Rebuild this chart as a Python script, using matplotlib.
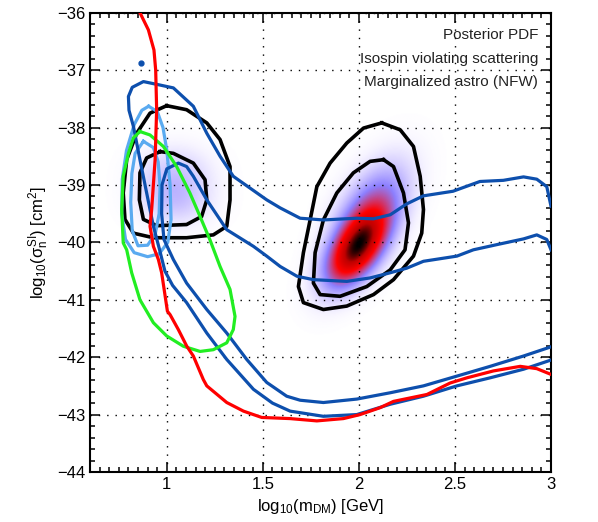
import numpy as np
import matplotlib.pyplot as plt
from matplotlib.colors import LinearSegmentedColormap
from matplotlib.ticker import MultipleLocator

plt.rcParams['font.family'] = 'Liberation Sans'
plt.rcParams['mathtext.fontset'] = 'custom'
plt.rcParams['mathtext.rm'] = 'Liberation Sans'
plt.rcParams['mathtext.it'] = 'Liberation Sans'
plt.rcParams['mathtext.sf'] = 'Liberation Sans'
plt.rcParams['mathtext.bf'] = 'Liberation Sans:bold'

# posterior blobs: centre, widths, correlation, weight
blob_mx = [1.99, 2.07, 1.04, 1.04]
blob_my = [-40.12, -39.4, -38.8, -39.3]
blob_sx = [0.11, 0.13, 0.13, 0.13]
blob_sy = [0.45, 0.55, 0.33, 0.3]
blob_rho = [0.55, 0.5, 0.0, 0.0]
blob_w = [1.0, 0.4, 0.15, 0.15]

# posterior contours (black)
post_r1_x = [2.119, 2.215, 2.284, 2.319, 2.336, 2.327, 2.284, 2.18, 2.076, 1.937, 1.815, 1.711, 1.685, 1.711, 1.746, 1.781, 1.85, 1.937, 2.024, 2.119]
post_r1_y = [-37.92, -38.04, -38.33, -38.85, -39.43, -39.84, -40.24, -40.65, -40.91, -41.11, -41.17, -41.05, -40.77, -40.18, -39.61, -39.03, -38.62, -38.27, -38.01, -37.92]
post_r2_x = [2.128, 2.18, 2.232, 2.258, 2.24, 2.163, 2.041, 1.902, 1.798, 1.763, 1.772, 1.815, 1.885, 1.971, 2.058, 2.128]
post_r2_y = [-38.56, -38.68, -39.14, -39.66, -40.13, -40.48, -40.77, -40.94, -40.91, -40.71, -40.18, -39.61, -39.14, -38.79, -38.59, -38.56]
post_l1_x = [0.999, 1.103, 1.208, 1.277, 1.329, 1.329, 1.312, 1.242, 1.103, 0.93, 0.826, 0.782, 0.773, 0.791, 0.843, 0.9125, 0.999]
post_l1_y = [-37.62, -37.69, -37.92, -38.21, -38.68, -39.26, -39.72, -39.87, -39.92, -39.92, -39.84, -39.6, -39.14, -38.56, -38.1, -37.75, -37.62]
post_l2_x = [0.965, 1.034, 1.138, 1.199, 1.208, 1.181, 1.103, 0.947, 0.878, 0.857, 0.86, 0.895, 0.965]
post_l2_y = [-38.42, -38.45, -38.62, -38.91, -39.26, -39.55, -39.69, -39.71, -39.6, -39.26, -38.79, -38.53, -38.42]

# dark blue contours
db_outer_x = [3.0, 2.978, 2.926, 2.857, 2.752, 2.63, 2.49, 2.336, 2.249, 2.163, 2.076, 1.989, 1.815, 1.694, 1.59, 1.52, 1.346, 1.277, 1.208, 1.138, 1.034, 0.95, 0.878, 0.82, 0.80, 0.803, 0.826, 0.86, 0.895, 0.93, 0.96, 0.99, 1.03, 1.103, 1.208, 1.312, 1.451, 1.55, 1.642, 1.815, 1.989, 2.163, 2.336, 2.51, 2.683, 2.857, 3.0]
db_outer_y = [-39.37, -39.03, -38.9, -38.86, -38.92, -38.94, -39.11, -39.19, -39.33, -39.52, -39.59, -39.58, -39.61, -39.58, -39.4, -39.26, -38.85, -38.5, -38.1, -37.63, -37.31, -37.25, -37.2, -37.3, -37.46, -37.7, -37.98, -38.56, -39.14, -39.72, -40.1, -40.5, -40.75, -41.05, -41.58, -42.04, -42.56, -42.8, -42.94, -43.03, -43.0, -42.82, -42.68, -42.5, -42.36, -42.21, -42.05]
db_inner_x = [3.0, 2.978, 2.926, 2.857, 2.718, 2.596, 2.51, 2.336, 2.249, 2.163, 2.058, 1.937, 1.763, 1.677, 1.59, 1.52, 1.451, 1.312, 1.208, 1.138, 1.103, 1.06, 1.0, 0.975, 0.973, 0.985, 1.034, 1.103, 1.208, 1.312, 1.416, 1.52, 1.624, 1.694, 1.815, 1.989, 2.163, 2.336, 2.51, 2.683, 2.857, 3.0]
db_inner_y = [-40.13, -39.95, -39.87, -39.94, -40.04, -40.13, -40.24, -40.33, -40.45, -40.53, -40.62, -40.68, -40.65, -40.59, -40.42, -40.24, -40.07, -39.78, -39.26, -38.85, -38.68, -38.62, -38.72, -39.0, -39.5, -39.95, -40.3, -40.71, -41.17, -41.58, -42.04, -42.44, -42.68, -42.75, -42.79, -42.73, -42.62, -42.5, -42.33, -42.16, -41.98, -41.82]

# light blue contours
lb_outer_x = [0.905, 0.95, 0.98, 1.0, 1.017, 1.022, 1.005, 0.96, 0.90, 0.83, 0.785, 0.765, 0.768, 0.79, 0.83, 0.87, 0.905]
lb_outer_y = [-37.63, -37.72, -38.0, -38.4, -39.0, -39.6, -40.0, -40.2, -40.25, -40.18, -39.95, -39.5, -38.9, -38.4, -37.95, -37.7, -37.63]
lb_inner_x = [0.878, 0.93, 0.955, 0.965, 0.96, 0.94, 0.90, 0.85, 0.82, 0.812, 0.818, 0.835, 0.878]
lb_inner_y = [-38.24, -38.35, -38.6, -39.03, -39.5, -39.85, -40.05, -40.06, -39.8, -39.3, -38.8, -38.45, -38.24]

# green contour
gr_x = [0.86, 0.9125, 0.982, 1.051, 1.12, 1.173, 1.225, 1.277, 1.329, 1.355, 1.346, 1.312, 1.242, 1.173, 1.086, 0.999, 0.93, 0.86, 0.817, 0.791, 0.773, 0.765, 0.773, 0.80, 0.826, 0.86]
gr_y = [-38.07, -38.13, -38.33, -38.68, -39.14, -39.55, -39.96, -40.42, -40.82, -41.29, -41.52, -41.75, -41.87, -41.9, -41.81, -41.63, -41.4, -41.0, -40.53, -40.13, -40.01, -39.43, -38.85, -38.45, -38.18, -38.07]

# red limit
red_x = [0.86, 0.904, 0.933, 0.942, 0.947, 0.939, 0.921, 0.9125, 0.93, 0.956, 0.973, 1.003, 1.017, 1.06, 1.104, 1.138, 1.19, 1.208, 1.312, 1.399, 1.494, 1.642, 1.781, 1.919, 2.006, 2.11, 2.18, 2.354, 2.475, 2.562, 2.70, 2.84, 2.926, 3.0]
red_y = [-36.0, -36.3, -36.65, -37.0, -37.69, -38.56, -39.43, -39.72, -40.07, -40.3, -40.53, -41.2, -41.26, -41.52, -41.81, -41.98, -42.39, -42.5, -42.79, -42.94, -43.05, -43.07, -43.11, -43.07, -43.0, -42.88, -42.77, -42.65, -42.45, -42.36, -42.24, -42.16, -42.2, -42.3]

dot_x = [0.864]
dot_y = [-36.87]

labels = ['Posterior PDF', 'Isospin violating scattering', 'Marginalized astro (NFW)']

# density grid
gx = np.linspace(0.6, 3.0, 480)
gy = np.linspace(-44, -36, 480)
X, Y = np.meshgrid(gx, gy)
Z = np.zeros_like(X)
for mx, my, sx, sy, r, w in zip(blob_mx, blob_my, blob_sx, blob_sy, blob_rho, blob_w):
    u = (X - mx) / sx
    v = (Y - my) / sy
    Z += w * np.exp(-(u * u - 2 * r * u * v + v * v) / (2 * (1 - r * r)))
Z = Z / Z.max()

cmap = LinearSegmentedColormap.from_list('post', [
    (0.0, (1, 1, 1)),
    (0.03, (0.97, 0.96, 1.0)),
    (0.12, (0.84, 0.81, 1.0)),
    (0.3, (0.55, 0.5, 1.0)),
    (0.6, (1.0, 0.0, 0.0)),
    (0.82, (0.75, 0.0, 0.0)),
    (1.0, (0.0, 0.0, 0.0)),
])

fig = plt.figure(figsize=(5.98, 5.22), dpi=100)
ax = fig.add_axes([0.1505, 0.0958, 0.7709, 0.8799])

ax.imshow(Z, extent=[0.6, 3.0, -44, -36], origin='lower', aspect='auto',
          cmap=cmap, vmin=0, vmax=1, interpolation='bilinear', zorder=0)

lw = 2.3
for cx, cy in [(post_r1_x, post_r1_y), (post_r2_x, post_r2_y),
               (post_l1_x, post_l1_y), (post_l2_x, post_l2_y)]:
    ax.plot(cx, cy, color='black', lw=lw + 0.3, zorder=3, solid_joinstyle='round')
ax.plot(lb_outer_x, lb_outer_y, color='#5aaaf0', lw=lw, zorder=3)
ax.plot(lb_inner_x, lb_inner_y, color='#5aaaf0', lw=lw, zorder=3)
ax.plot(db_outer_x, db_outer_y, color='#0d4fad', lw=lw, zorder=4)
ax.plot(db_inner_x, db_inner_y, color='#0d4fad', lw=lw, zorder=4)
ax.plot(gr_x, gr_y, color='#22ee22', lw=lw, zorder=5)
ax.plot(red_x, red_y, color='#ff0000', lw=lw, zorder=6)
ax.plot(dot_x, dot_y, 'o', color='#0d4fad', ms=3.5, zorder=6)

ax.set_xlim(0.6, 3.0)
ax.set_ylim(-44, -36)
ax.xaxis.set_major_locator(MultipleLocator(0.5))
ax.xaxis.set_minor_locator(MultipleLocator(0.05))
ax.yaxis.set_major_locator(MultipleLocator(1))
ax.yaxis.set_minor_locator(MultipleLocator(0.2))
ax.set_xticks([1, 1.5, 2, 2.5, 3])
ax.set_xticklabels(['1', '1.5', '2', '2.5', '3'])
ax.tick_params(which='both', direction='in', top=True, right=True, labelsize=12, width=1.1)
ax.tick_params(which='major', length=7)
ax.tick_params(which='minor', length=3.5)
for s in ax.spines.values():
    s.set_linewidth(1.5)
ax.grid(True, which='major', color='black', linestyle=(0, (1, 5)), linewidth=1.0)
ax.set_axisbelow(False)

ax.set_xlabel(r'log$_{10}$(m$_{\rm DM}$) [GeV]', fontsize=12)
ax.set_ylabel(r'log$_{10}$($\sigma_{\rm n}^{\rm SI}$) [cm$^2$]', fontsize=12)

for i, t in enumerate(labels):
    ax.text(0.972, 0.951 - i * 0.051, t, transform=ax.transAxes, ha='right', va='center',
            fontsize=11, color='#222222', zorder=7)

fig.savefig('out.png', dpi=100)
